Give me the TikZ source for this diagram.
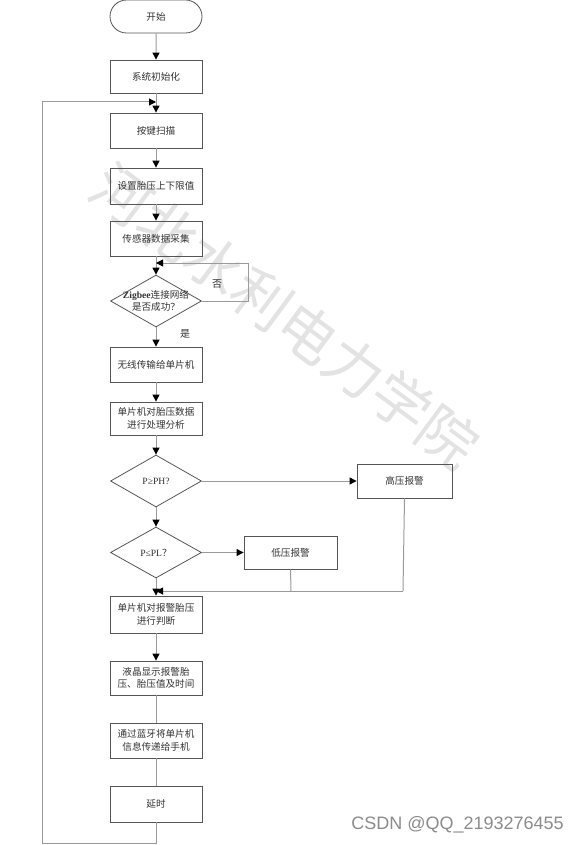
\documentclass[tikz,border=0pt]{standalone}
\usepackage{fontspec}
\setmainfont{Noto Sans CJK SC}
\newfontfamily\latinserif{Liberation Serif}
\newfontfamily\csdnfont{Liberation Sans}
\usetikzlibrary{arrows.meta,shapes.geometric,shapes.misc}
\definecolor{lineg}{HTML}{9A9A9A}
\definecolor{boxg}{HTML}{555555}
\definecolor{txtg}{HTML}{333333}
\begin{document}
\begin{tikzpicture}[x=1pt,y=-1pt,
  base/.style={draw=boxg,line width=0.8pt,text=txtg,font=\fontsize{9.6}{12.5}\selectfont,align=center,inner sep=0pt},
  procbox/.style={base,rectangle,minimum width=92pt},
  termbox/.style={base,rounded rectangle,minimum width=92pt,minimum height=33pt},
  decbox/.style={base,diamond,minimum width=91pt,minimum height=52pt},
  dtext/.style={text=txtg,font=\fontsize{9.6}{12.5}\selectfont,align=center,inner sep=0pt},
  flow/.style={draw=lineg,line width=1pt},
  arr/.style={flow,-{Triangle[length=7pt,width=7pt,color=black]}},
  lbl/.style={text=txtg,font=\fontsize{10}{12}\selectfont,inner sep=0pt}
]
\useasboundingbox (0,0) rectangle (580,845);
\fill[white] (0,0) rectangle (580,845);
% watermark
\node[text=black!11,font=\fontsize{58}{60}\selectfont,rotate=-36.5,inner sep=0pt] (wm) at (285,316) {河北水利电力学院};
\node[text=black!45,font=\csdnfont\fontsize{18}{20}\selectfont,anchor=east,inner sep=0pt] (csdn) at (564,825) {CSDN @QQ\_2193276455};

% nodes
\node[termbox] (start) at (156,16.5) {开始};
\node[procbox,minimum height=33pt] (init) at (156,76.5) {系统初始化};
\node[procbox,minimum height=35pt] (scan) at (156,130.5) {按键扫描};
\node[procbox,minimum height=36pt] (setlim) at (156,186) {设置胎压上下限值};
\node[procbox,minimum height=35pt] (sensor) at (156,238.5) {传感器数据采集};
\node[decbox] (zig) at (156,301) {};
\node[dtext] (zigt) at (156,301) {{\latinserif\bfseries Zigbee}连接网络\\是否成功？};
\node[procbox,minimum height=35pt] (wireless) at (156,364.5) {无线传输给单片机};
\node[procbox,minimum height=33pt] (analyze) at (156,418.5) {单片机对胎压数据\\进行处理分析};
\node[decbox] (dph) at (156,481) {};
\node[dtext] (dpht) at (156,481) {{\latinserif P≥PH?}};
\node[procbox,minimum width=95pt,minimum height=34pt] (high) at (404.5,481) {高压报警};
\node[decbox,minimum height=51pt] (dpl) at (156,552.5) {};
\node[dtext] (dplt) at (156,552.5) {{\latinserif P≤PL}？};
\node[procbox,minimum width=93pt,minimum height=33pt] (low) at (290.5,552.5) {低压报警};
\node[procbox,minimum height=37pt] (judge) at (156,614.5) {单片机对报警胎压\\进行判断};
\node[procbox,minimum height=34pt] (lcd) at (156,678) {液晶显示报警胎\\压、胎压值及时间};
\node[procbox,minimum height=35pt] (bt) at (156,740.5) {通过蓝牙将单片机\\信息传递给手机};
\node[procbox,minimum height=36pt] (delay) at (156,804) {延时};

\node[lbl] (no) at (217,284) {否};
\node[lbl] (yes) at (185,334) {是};

% helper coordinates
\coordinate (loopin) at (156,102);
\coordinate (nobr) at (248,301);
\coordinate (notop) at (248,263);
\coordinate (noend) at (156,263);
\coordinate (merge) at (156,591);
\coordinate (highbot) at (403,591);
\coordinate (lowbot) at (291,591);
\coordinate (botR) at (156,843);
\coordinate (botL) at (42,843);
\coordinate (topL) at (42,102);

% connectors
\draw[arr] (start) -- (init);
\draw[arr] (init) -- (scan);
\draw[arr] (scan) -- (setlim);
\draw[arr] (setlim) -- (sensor);
\draw[arr] (sensor) -- (zig);
\draw[flow] (zig.east) -- (nobr) -- (notop);
\draw[arr] (notop) -- (noend);
\draw[arr] (zig) -- (wireless);
\draw[arr] (wireless) -- (analyze);
\draw[arr] (analyze) -- (dph);
\draw[arr] (dph) -- (dpl);
\draw[arr] (dph.east) -- (high.west);
\draw[arr] (dpl.east) -- (low.west);
\draw[arr] (dpl) -- (judge);
\draw[flow] (high.south) -- (highbot);
\draw[arr] (highbot) -- (merge);
\draw[flow] (low.south) -- (lowbot);
\draw[arr] (judge) -- (lcd);
\draw[flow] (lcd) -- (bt);
\draw[flow] (bt) -- (delay);
\draw[flow] (delay.south) -- (botR) -- (botL) -- (topL);
\draw[arr] (topL) -- (loopin);
\end{tikzpicture}
\end{document}
